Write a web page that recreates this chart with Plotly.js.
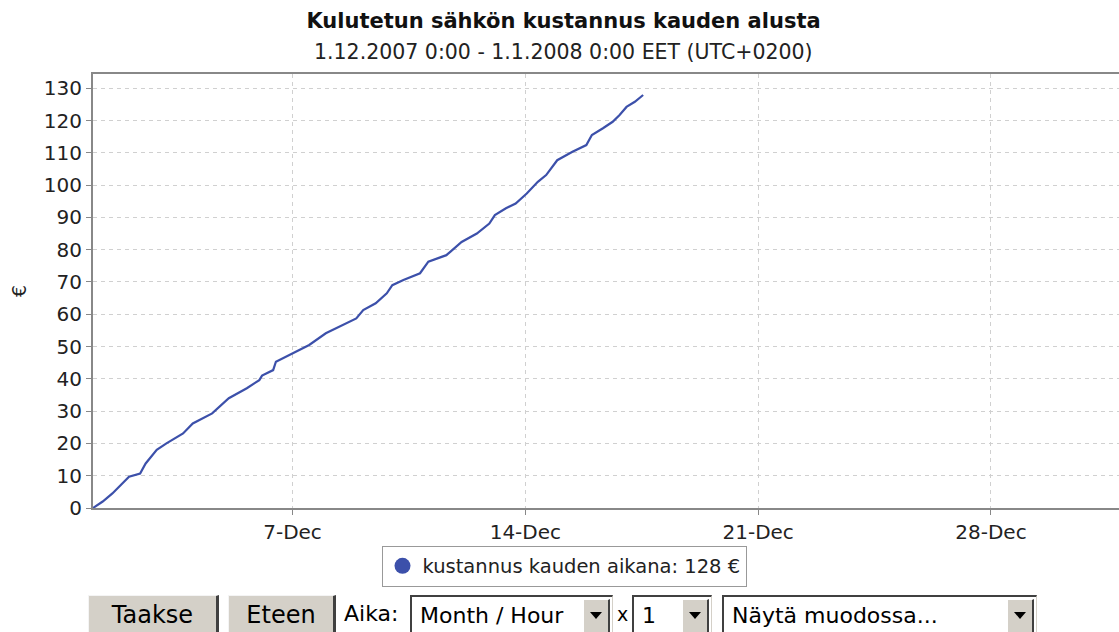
<!DOCTYPE html>
<html>
<head>
<meta charset="utf-8">
<script src="https://cdn.plot.ly/plotly-3.0.1.min.js"></script>
<style>
  html, body { margin:0; padding:0; background:#fff; overflow:hidden; width:1119px; height:632px; }
  #chart { position:absolute; left:0; top:0; width:1127px; height:632px; }
  #chart .legend .traces { opacity:1 !important; }
  .ctl { position:absolute; font-family:"DejaVu Sans", sans-serif; color:#000; box-sizing:border-box; white-space:nowrap; }
  .btn { top:595px; height:42px; background:#d4d0c8; border-top:1px solid #f4f4f4; border-left:1px solid #f4f4f4;
         border-right:3px solid #404040; border-bottom:2px solid #404040; font-size:24px; text-align:center; line-height:38px; }
  .lbl { top:597px; font-size:22px; line-height:34px; }
  .sel { top:595px; height:42px; background:#fff; border-top:2px solid #404040; border-left:2px solid #404040;
         border-right:1px solid #d4d0c8; border-bottom:1px solid #d4d0c8; font-size:22px; line-height:38px; padding-left:8px; }
  .arr { position:absolute; top:2px; right:2px; width:27px; height:36px; background:#d4d0c8;
         border-top:1px solid #fff; border-left:1px solid #fff; border-right:2px solid #404040; border-bottom:2px solid #404040; box-sizing:border-box; }
  .arr::after { content:""; position:absolute; left:6px; top:12px; width:0; height:0;
         border-left:6px solid transparent; border-right:6px solid transparent; border-top:7px solid #000; }
</style>
</head>
<body>
<div id="chart"></div>
<div class="ctl btn" style="left:88px;width:131px;">Taakse</div>
<div class="ctl btn" style="left:228px;width:108px;">Eteen</div>
<div class="ctl lbl" style="left:344px;">Aika:</div>
<div class="ctl sel" style="left:410px;width:203px;">Month / Hour<div class="arr"></div></div>
<div class="ctl lbl" style="left:617px;font-size:19px;">x</div>
<div class="ctl sel" style="left:632px;width:80px;">1<div class="arr"></div></div>
<div class="ctl sel" style="left:722px;width:315px;">Näytä muodossa...<div class="arr"></div></div>
<script>
const chartTitle = 'Kulutetun sähkön kustannus kauden alusta';
const chartSubtitle = '1.12.2007 0:00 - 1.1.2008 0:00 EET (UTC+0200)';
const yTitle = '€';
const seriesName = 'kustannus kauden aikana: 128 €';
const times = ['2007-12-01 00:00','2007-12-01 07:00','2007-12-01 14:00','2007-12-02 02:00','2007-12-02 10:00',
  '2007-12-02 14:00','2007-12-02 22:00','2007-12-03 05:00','2007-12-03 17:00','2007-12-04 00:00',
  '2007-12-04 14:00','2007-12-04 22:00','2007-12-05 02:00','2007-12-05 15:00','2007-12-06 00:00',
  '2007-12-06 02:00','2007-12-06 10:00','2007-12-06 12:00','2007-12-07 00:00','2007-12-07 12:00',
  '2007-12-08 00:00','2007-12-08 10:00','2007-12-08 22:00','2007-12-09 03:00','2007-12-09 12:00',
  '2007-12-09 20:00','2007-12-10 00:00','2007-12-10 08:00','2007-12-10 20:00','2007-12-11 02:00',
  '2007-12-11 15:00','2007-12-11 18:00','2007-12-12 02:00','2007-12-12 13:00','2007-12-12 22:00',
  '2007-12-13 02:00','2007-12-13 10:00','2007-12-13 17:00','2007-12-14 01:00','2007-12-14 09:00',
  '2007-12-14 15:00','2007-12-14 23:00','2007-12-15 10:00','2007-12-15 20:00','2007-12-16 00:00',
  '2007-12-16 08:00','2007-12-16 15:00','2007-12-16 20:00','2007-12-17 01:00','2007-12-17 07:00',
  '2007-12-17 13:00'];
const cost = [0, 2.0, 4.5, 9.7, 10.7,
  13.8, 18.0, 20.0, 23.1, 26.2,
  29.3, 32.4, 34.0, 37.1, 39.6,
  41.0, 42.7, 45.3, 47.9, 50.5,
  54.1, 56.1, 58.7, 61.3, 63.4,
  66.5, 69.0, 70.6, 72.7, 76.3,
  78.3, 79.4, 82.4, 85.0, 88.1,
  90.7, 92.8, 94.3, 97.4, 101.0,
  103.1, 107.7, 110.3, 112.4, 115.5,
  117.6, 119.6, 121.7, 124.2, 125.8,
  127.9];
const xRange = ['2007-12-01 00:00', '2008-01-01 00:00'];
const yRange = [0, 134.4];
const firstTick = '2007-12-07';

const blue = '#3c50aa';
const font = 'DejaVu Sans, sans-serif';

const traces = [
  { x: times, y: cost, type: 'scatter', mode: 'lines', line: { color: blue, width: 2.2 },
    showlegend: false, hoverinfo: 'x+y' },
  { x: times, y: cost, type: 'scatter', mode: 'markers', name: seriesName, visible: 'legendonly',
    marker: { color: blue, size: 18, symbol: 'circle' }, showlegend: true }
];

const layout = {
  width: 1127, height: 632,
  margin: { l: 93, r: 3, t: 74, b: 124 },
  paper_bgcolor: '#fff', plot_bgcolor: '#fff',
  font: { family: font, size: 20, color: '#222' },
  title: {
    text: chartTitle,
    font: { family: font, size: 21, weight: 'bold', color: '#111' },
    x: 0.5, xanchor: 'center', yref: 'container', y: 0.968, yanchor: 'middle'
  },
  annotations: [{
    text: chartSubtitle, showarrow: false,
    xref: 'paper', x: (563.5 - 93) / 1031, xanchor: 'center',
    yref: 'paper', y: (508 - 52) / 434, yanchor: 'middle',
    font: { family: font, size: 20.5, color: '#222' }
  }],
  xaxis: {
    type: 'date', range: xRange, tick0: firstTick, dtick: 7 * 86400000, tickformat: '%-d-%b',
    showline: true, linecolor: '#888', linewidth: 2, mirror: true,
    ticks: 'outside', ticklen: 5, tickcolor: '#888', tickwidth: 1,
    showgrid: true, gridcolor: '#d0d0d0', gridwidth: 1, griddash: '4px,4px',
    zeroline: false, automargin: false, tickfont: { size: 20, color: '#222' }
  },
  yaxis: {
    range: yRange, dtick: 10, tick0: 0,
    showline: true, linecolor: '#888', linewidth: 2, mirror: true,
    ticks: 'outside', ticklen: 5, tickcolor: '#888', tickwidth: 1,
    showgrid: true, gridcolor: '#d0d0d0', gridwidth: 1, griddash: '4px,4px',
    zeroline: false, automargin: false, tickfont: { size: 20, color: '#222' },
    title: { text: yTitle, font: { size: 19, color: '#222' }, standoff: 12 }
  },
  legend: {
    x: (564 - 93) / 1031, xanchor: 'center', y: -0.134, yanchor: 'middle', orientation: 'h',
    bordercolor: '#999', borderwidth: 1, bgcolor: '#fff',
    font: { family: font, size: 19.5, color: '#222' }
  },
  showlegend: true
};

Plotly.newPlot('chart', traces, layout, { displayModeBar: false, staticPlot: true });
</script>
</body>
</html>
